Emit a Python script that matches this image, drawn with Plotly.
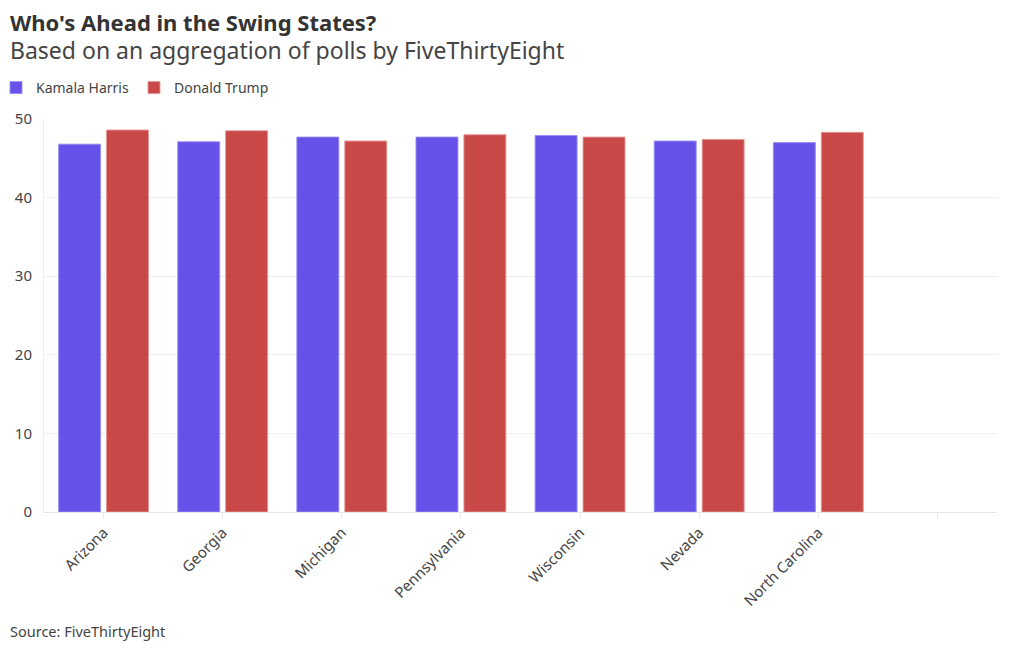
import plotly.graph_objects as go

states = ["Arizona", "Georgia", "Michigan", "Pennsylvania", "Wisconsin", "Nevada", "North Carolina", " "]
harris = [46.8, 47.1, 47.7, 47.7, 47.9, 47.2, 47.0, None]
trump = [48.6, 48.5, 47.2, 48.0, 47.7, 47.4, 48.3, None]
y_ticks = [0, 10, 20, 30, 40, 50]

FONT = "Noto Sans"
W, H = 1020, 650
OFF = 8  # page body margin
L, R, T, B = 44 - OFF, 1020 - 997 + OFF, 119 - OFF, 650 - 512 + OFF
pw = W - L - R
ph = H - T - B


def px_x(x):
    # x in screen pixels -> paper coords
    return (x - OFF - L) / pw


def px_y(y):
    return (H - B - (y - OFF)) / ph


fig = go.Figure()
fig.add_trace(go.Bar(
    name="Kamala Harris", x=states, y=harris,
    marker=dict(color="rgba(80,56,230,0.87)", line=dict(color="rgba(150,140,245,0.9)", width=1)),
))
fig.add_trace(go.Bar(
    name="Donald Trump", x=states, y=trump,
    marker=dict(color="rgba(190,35,35,0.83)", line=dict(color="rgba(230,150,150,0.9)", width=1)),
))

fig.update_layout(
    width=W, height=H,
    margin=dict(l=L, r=R, t=T, b=B, autoexpand=False),
    paper_bgcolor="white", plot_bgcolor="white",
    font=dict(family=FONT, color="#444", size=14),
    barmode="group", bargap=0.195, bargroupgap=0.125,
    legend=dict(
        orientation="h",
        x=px_x(-4), xanchor="left", y=px_y(88), yanchor="middle",
        font=dict(size=14, color="#444"), itemwidth=30, traceorder="normal",
        bgcolor="rgba(0,0,0,0)",
    ),
    xaxis=dict(
        type="category", range=[-0.5, 7.5],
        tickangle=-45, ticks="outside", ticklen=5, tickcolor="#e6e6e6",
        showline=True, linecolor="#e6e6e6", showgrid=False,
        tickfont=dict(size=15, color="#444"),
    ),
    yaxis=dict(
        range=[0, 50], tickvals=y_ticks, gridcolor="#eeeeee",
        showline=True, linecolor="#eeeeee", zeroline=False,
        ticks="outside", ticklen=8, tickcolor="white",
        tickfont=dict(size=15, color="#444"),
    ),
    annotations=[
        dict(
            text="<b>Who's Ahead in the Swing States?</b>", showarrow=False,
            xref="paper", yref="paper", x=px_x(8), xanchor="left",
            y=px_y(22), yanchor="middle",
            font=dict(size=22, color="#333"),
        ),
        dict(
            text="Based on an aggregation of polls by FiveThirtyEight", showarrow=False,
            xref="paper", yref="paper", x=px_x(8), xanchor="left",
            y=px_y(50), yanchor="middle",
            font=dict(size=23, color="#444"),
        ),
        dict(
            text="Source: FiveThirtyEight", showarrow=False,
            xref="paper", yref="paper", x=px_x(8), xanchor="left",
            y=px_y(631), yanchor="middle",
            font=dict(size=14.5, color="#444"),
        ),
    ],
)

fig.write_html("out.html")
